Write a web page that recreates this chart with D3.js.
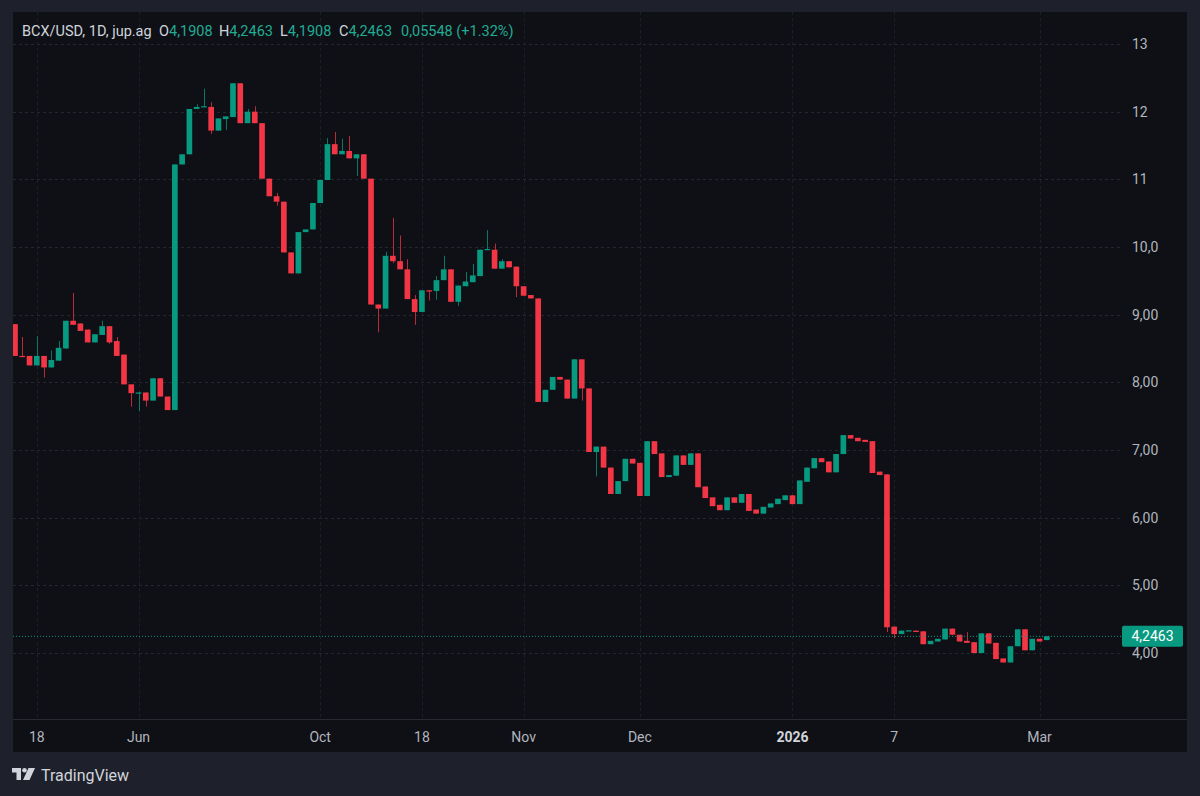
<!DOCTYPE html>
<html><head><meta charset="utf-8">
<script src="https://cdn.jsdelivr.net/npm/d3@7"></script>
<style>
html,body{margin:0;padding:0;background:#1e212b;}
svg{display:block;font-family:Roboto,"Noto Sans",sans-serif;}
</style></head>
<body>
<svg id="chart" width="1200" height="796"></svg>
<script>
// ---- DATA ----
const opens  = [8.86,8.39,8.39,8.25,8.39,8.22,8.32,8.50,8.91,8.87,8.78,8.59,8.70,8.83,8.61,8.41,7.97,7.84,7.85,7.73,8.06,7.79,
  7.59,11.22,11.37,12.04,12.07,12.07,11.72,11.89,11.92,12.42,11.83,12.00,11.83,11.01,10.75,10.67,9.92,9.61,10.22,10.26,10.65,10.99,
  11.52,11.37,11.42,11.31,11.37,11.01,9.15,9.09,9.87,9.79,9.67,9.23,9.04,9.36,9.35,9.51,9.67,9.19,9.42,9.48,9.57,9.96,9.96,9.68,
  9.79,9.71,9.42,9.29,9.24,7.71,7.89,8.08,8.04,7.76,8.34,7.91,6.97,7.05,6.74,6.35,6.54,6.87,6.81,6.32,7.13,6.95,6.60,6.62,6.92,
  6.78,6.95,6.46,6.30,6.19,6.11,6.30,6.22,6.35,6.12,6.06,6.15,6.20,6.26,6.33,6.20,6.53,6.73,6.88,6.83,6.67,6.94,7.22,7.18,7.15,
  7.13,6.68,6.64,4.39,4.28,4.33,4.33,4.32,4.13,4.17,4.20,4.36,4.27,4.18,4.16,4.00,4.29,4.15,3.92,3.86,4.10,4.35,4.04,4.21,4.1908];
const closes = [8.39,8.38,8.25,8.39,8.22,8.33,8.51,8.91,8.85,8.76,8.59,8.71,8.83,8.59,8.39,7.97,7.84,7.85,7.73,8.06,7.79,7.59,
  11.22,11.37,12.04,12.07,12.08,11.72,11.90,11.93,12.42,11.83,12.00,11.83,11.01,10.75,10.67,9.92,9.61,10.22,10.26,10.65,10.99,11.52,
  11.37,11.42,11.31,11.37,11.01,9.15,9.09,9.87,9.79,9.67,9.23,9.04,9.36,9.35,9.51,9.67,9.19,9.43,9.49,9.58,9.96,9.97,9.68,9.79,
  9.70,9.42,9.28,9.24,7.71,7.89,8.08,8.04,7.76,8.34,7.91,6.97,7.05,6.74,6.35,6.54,6.87,6.80,6.32,7.13,6.94,6.60,6.63,6.92,6.78,
  6.95,6.45,6.29,6.17,6.11,6.30,6.22,6.35,6.10,6.06,6.16,6.21,6.28,6.33,6.20,6.55,6.74,6.88,6.82,6.67,6.94,7.22,7.17,7.13,7.12,
  6.66,6.63,4.38,4.28,4.33,4.335,4.31,4.13,4.18,4.21,4.36,4.27,4.17,4.15,4.00,4.29,4.14,3.91,3.86,4.10,4.35,4.04,4.21,4.17,4.2463];
// highs / lows only where a wick sticks out beyond the body (null = body edge)
const highs = [null,8.67,null,8.68,null,8.47,8.61,null,9.32,null,null,null,8.91,null,8.67,null,null,7.86,null,null,null,null,
  null,null,null,12.11,12.34,12.14,null,null,null,null,12.04,12.08,null,null,10.80,null,null,null,null,null,null,11.61,
  11.70,11.60,11.64,null,null,null,null,9.93,10.43,10.17,9.82,9.29,null,null,9.57,9.87,null,null,9.63,9.75,null,10.25,10.05,9.82,
  null,null,null,null,null,null,null,null,null,null,null,null,null,null,null,null,null,null,null,null,null,null,null,null,null,
  null,null,null,null,null,null,null,null,null,null,null,null,null,null,null,null,null,null,null,null,null,null,null,null,null,
  null,null,null,null,null,null,null,null,null,null,null,null,null,4.31,null,null,null,null,null,null,null,null,null,null,null];
const lows  = [null,null,null,null,8.07,null,null,null,null,null,null,null,null,8.57,null,null,7.64,7.57,7.64,null,null,null,
  null,null,null,null,null,11.67,null,11.73,null,null,null,null,null,null,10.61,null,null,null,null,null,null,null,
  null,null,null,11.05,null,null,8.74,null,9.76,null,null,8.85,null,9.21,9.22,null,null,9.13,null,null,null,null,null,null,
  null,9.26,null,null,null,null,null,null,null,null,7.73,null,6.61,null,null,null,null,null,null,null,null,null,null,null,null,
  null,null,null,null,null,null,null,null,null,null,null,null,null,null,null,null,null,null,null,null,null,null,null,null,null,
  null,null,4.31,4.22,null,null,null,null,null,null,null,null,null,null,null,null,null,null,null,null,null,null,null,null,null];
const priceTickValues = [13,12,11,10,9,8,7,6,5,4];
const priceTickLabels = ["13","12","11","10,0","9,00","8,00","7,00","6,00","5,00","4,00"];
const timeTickIndex  = [3,17,42,56,70,86,107,121,141];
const timeTickLabels = ["18","Jun","Oct","18","Nov","Dec","2026","7","Mar"];
const lastPrice = 4.2463;
const lastPriceLabel = "4,2463";
const headerSymbol = "BCX/USD, 1D, jup.ag";
const headerOHLC = [["O","4,1908"],["H","4,2463"],["L","4,1908"],["C","4,2463"]];
const headerChange = "0,05548 (+1.32%)";

// ---- LAYOUT ----
const UP = "#089981", DOWN = "#f23645";
const panel = {x0:13, y0:12, x1:1187, y1:752};
const plotRight = 1123, axisY = 719;
const svg = d3.select("#chart");

svg.append("rect").attr("x",0).attr("y",0).attr("width",1200).attr("height",796).attr("fill","#1e212b");
svg.append("rect").attr("x",panel.x0).attr("y",panel.y0).attr("width",panel.x1-panel.x0).attr("height",panel.y1-panel.y0).attr("fill","#0e1015");

const data = opens.map((o,i)=>{
  const c = closes[i];
  return {i, o, c, h: highs[i]!=null?highs[i]:Math.max(o,c), l: lows[i]!=null?lows[i]:Math.min(o,c)};
});

const x = d3.scalePoint().domain(d3.range(data.length)).range([15,1046.8]);
const y = d3.scaleLinear().domain([4,13]).range([653,44]);
const bodyW = x.step()*0.78;

svg.append("clipPath").attr("id","plotclip").append("rect")
  .attr("x",panel.x0).attr("y",panel.y0).attr("width",plotRight-panel.x0).attr("height",axisY-panel.y0);

// grid
const grid = svg.append("g");
grid.selectAll("line.h").data(priceTickValues).join("line")
  .attr("x1",panel.x0).attr("x2",plotRight)
  .attr("y1",d=>Math.round(y(d))+0.5).attr("y2",d=>Math.round(y(d))+0.5)
  .attr("stroke","#23272f").attr("stroke-dasharray","3,3");
grid.selectAll("line.v").data(timeTickIndex).join("line")
  .attr("x1",d=>Math.round(x(d))+0.5).attr("x2",d=>Math.round(x(d))+0.5)
  .attr("y1",panel.y0).attr("y2",axisY)
  .attr("stroke","#1d2029").attr("stroke-dasharray","3,3");

// candles
const cg = svg.append("g").attr("clip-path","url(#plotclip)");
const candle = cg.selectAll("g.c").data(data).join("g");
candle.append("line")
  .attr("x1",d=>Math.round(x(d.i))+0.5).attr("x2",d=>Math.round(x(d.i))+0.5)
  .attr("y1",d=>y(d.h)).attr("y2",d=>y(d.l))
  .attr("stroke",d=>d.c>=d.o?UP:DOWN).attr("stroke-opacity",0.75).attr("stroke-width",1);
candle.append("rect")
  .attr("x",d=>x(d.i)-bodyW/2).attr("width",bodyW)
  .attr("y",d=>y(Math.max(d.o,d.c)))
  .attr("height",d=>Math.max(1.2,Math.abs(y(d.o)-y(d.c))))
  .attr("fill",d=>d.c>=d.o?UP:DOWN);

// last price dotted line
svg.append("line").attr("x1",panel.x0).attr("x2",plotRight)
  .attr("y1",y(lastPrice)).attr("y2",y(lastPrice))
  .attr("stroke",UP).attr("stroke-width",1).attr("stroke-dasharray","1,2");

// time axis separator
svg.append("line").attr("x1",panel.x0).attr("x2",panel.x1).attr("y1",axisY+0.5).attr("y2",axisY+0.5).attr("stroke","#262a33");

// price axis labels
svg.append("g").selectAll("text").data(priceTickValues).join("text")
  .attr("x",1132).attr("y",d=>y(d)).attr("dy","0.35em")
  .attr("fill","#b2b5be").attr("font-size",14)
  .text((d,i)=>priceTickLabels[i]);

// last price label
const lpY = y(lastPrice);
svg.append("rect").attr("x",1122).attr("y",lpY-10.5).attr("width",61).attr("height",21).attr("rx",2).attr("fill",UP);
svg.append("text").attr("x",1152.5).attr("y",lpY).attr("dy","0.35em").attr("text-anchor","middle")
  .attr("fill","#ffffff").attr("font-size",14).text(lastPriceLabel);

// time axis labels
svg.append("g").selectAll("text").data(timeTickIndex).join("text")
  .attr("x",d=>x(d)).attr("y",737).attr("dy","0.35em").attr("text-anchor","middle")
  .attr("font-size",14)
  .attr("fill",(d,i)=>timeTickLabels[i]==="2026"?"#d1d4dc":"#b2b5be")
  .attr("font-weight",(d,i)=>timeTickLabels[i]==="2026"?"bold":"normal")
  .text((d,i)=>timeTickLabels[i]);

// header legend
const hdr = svg.append("text").attr("y",31).attr("dy","0.35em").attr("font-size",14.5);
hdr.append("tspan").attr("x",22).attr("fill","#d1d4dc").text(headerSymbol);
const hx = [159,219,280,339];
headerOHLC.forEach((p,i)=>{
  hdr.append("tspan").attr("x",hx[i]).attr("fill","#d1d4dc").text(p[0]);
  hdr.append("tspan").attr("fill","#22ab94").text(p[1]);
});
hdr.append("tspan").attr("x",401).attr("fill","#22ab94").text(headerChange);

// TradingView logo
const logo = svg.append("g").attr("transform","translate(12,768)").attr("fill","#d1d4dc");
logo.append("path").attr("d","M0 0 H9 V12 H4.5 V4.5 H0 Z");
logo.append("circle").attr("cx",12.5).attr("cy",2.3).attr("r",2.3);
logo.append("path").attr("d","M16.5 0 H23 L17.5 12 H11 Z");
svg.append("text").attr("x",41).attr("y",775).attr("dy","0.35em").attr("font-size",16)
  .attr("fill","#d1d4dc").text("TradingView");
</script>
</body></html>
